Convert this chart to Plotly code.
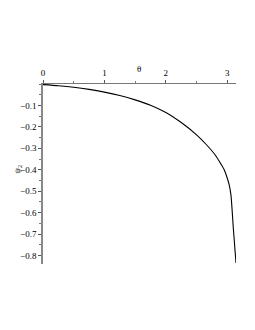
import plotly.graph_objects as go

theta = [0, 0.25, 0.5, 0.75, 1.0, 1.25, 1.5, 1.75, 2.0, 2.25, 2.5, 2.65, 2.8, 2.9, 2.95, 3.0, 3.03, 3.06, 3.1, 3.1416]
psi2 = [-0.003, -0.008, -0.015, -0.025, -0.038, -0.054, -0.074, -0.099, -0.133, -0.18, -0.237, -0.28, -0.33, -0.375, -0.40, -0.44, -0.47, -0.52, -0.68, -0.835]

x_ticks = [0, 1, 2, 3]
y_ticks = [-0.1, -0.2, -0.3, -0.4, -0.5, -0.6, -0.7, -0.8]

fig = go.Figure(go.Scatter(x=theta, y=psi2, mode="lines", line_shape="spline",
                           line=dict(color="black", width=1.1, smoothing=0.6), showlegend=False))

font = dict(family="Liberation Serif", size=9, color="black")

fig.update_layout(
    width=255, height=330,
    margin=dict(l=35, r=27, t=76, b=74),
    paper_bgcolor="white", plot_bgcolor="white",
    font=font,
    xaxis=dict(side="top", range=[0, 3.1416], tickvals=x_ticks,
               ticktext=[str(v) for v in x_ticks], automargin=False,
               showgrid=False, zeroline=False, showline=True,
               linecolor="#777", linewidth=1, ticks="outside", ticklen=3,
               tickcolor="#555", tickfont=font,
               minor=dict(dtick=0.5, tick0=0, ticks="outside", ticklen=2, tickcolor="#777")),
    yaxis=dict(range=[-0.84, 0], tickvals=y_ticks,
               ticktext=["−%.1f" % abs(v) for v in y_ticks], automargin=False,
               showgrid=False, zeroline=False, showline=True,
               linecolor="#888", linewidth=1.5, ticks="outside", ticklen=3,
               tickcolor="#555", tickfont=font,
               minor=dict(dtick=0.05, tick0=0, ticks="outside", ticklen=2, tickcolor="#777")),
    annotations=[
        dict(text="θ", xref="x", yref="paper", x=1.56, y=1, yshift=15,
             showarrow=False, font=font, xanchor="center", yanchor="middle"),
        dict(text="ψ<sub>2</sub>", xref="paper", yref="y", x=0, y=-0.4, xshift=-25,
             textangle=-90, showarrow=False, font=font, xanchor="center", yanchor="middle"),
    ],
)

fig.write_html("out.html")
